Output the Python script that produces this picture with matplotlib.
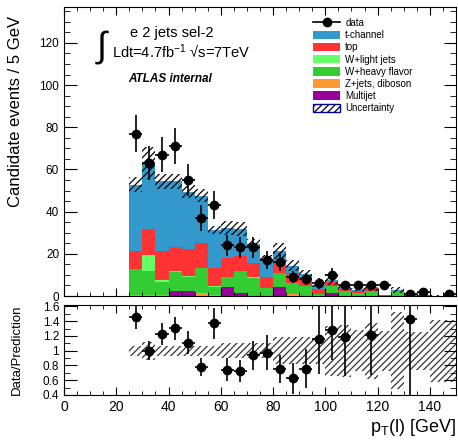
import matplotlib
matplotlib.use('Agg')
import matplotlib.pyplot as plt
import numpy as np
from matplotlib.lines import Line2D
from matplotlib.patches import Patch
from matplotlib.legend_handler import HandlerTuple
from matplotlib.ticker import MultipleLocator

plt.rcParams['font.family'] = ['Liberation Sans', 'DejaVu Sans']
plt.rcParams['mathtext.fontset'] = 'custom'
plt.rcParams['mathtext.rm'] = 'Liberation Sans'
plt.rcParams['mathtext.it'] = 'Liberation Sans:italic'
plt.rcParams['hatch.linewidth'] = 0.9

# 5 GeV bins, 25 -> 150 GeV
bin_lo = np.arange(25, 150, 5)
bin_w = 5

# event counts
data = [77, 63, 67, 71, 55, 37, 43, 24, 23, 23, 17, 16, 9, 8, 6, 10, 5, 5, 5, 5, 0, 1, 2, 0, 1]

# backgrounds (stacked bottom to top)
multijet = [0.1, 0.0, 0.0, 2.4, 2.4, 0.2, 0.0, 4.4, 1.5, 0.0, 0.0, 4.4, 0.0, 0.0, 0.0,
            1.5, 0.0, 0.0, 0.0, 0.0, 0.0, 0.0, 0.0, 0.2, 0.0]
zjets = [0.3, 0.3, 0.4, 0.1, 0.1, 1.4, 0.3, 0.1, 0.1, 0.2, 0.1, 0.1, 0.8, 0.2, 0.0,
         0.0, 0.0, 0.0, 0.0, 0.0, 0.0, 0.0, 0.0, 0.0, 0.0]
wheavy = [12.3, 11.6, 6.1, 8.7, 6.7, 11.9, 4.1, 4.4, 10.3, 8.5, 3.9, 6.3, 5.2, 4.5, 1.0,
          3.2, 2.2, 1.2, 2.3, 0.0, 2.5, 0.0, 0.0, 0.0, 0.0]
wlight = [0.0, 7.6, 1.1, 0.8, 0.3, 0.0, 0.2, 0.3, 0.0, 0.2, 0.0, 0.0, 0.0, 0.0, 0.0,
          0.0, 0.0, 0.0, 0.0, 0.0, 0.0, 0.0, 0.0, 0.0, 0.0]
top = [8.7, 12.3, 13.8, 11.3, 12.7, 11.7, 8.9, 8.7, 7.2, 6.9, 4.9, 5.5, 5.1, 4.3, 2.2,
       1.8, 1.3, 1.0, 1.5, 0.5, 0.0, 0.5, 0.2, 0.0, 0.1]
tchan = [31.4, 31.2, 33.1, 31.2, 27.3, 22.3, 17.8, 14.4, 12.7, 8.7, 8.6, 5.0, 3.3, 1.6, 2.0,
         1.3, 0.7, 0.8, 0.3, 0.0, 0.2, 0.2, 0.1, 0.0, 0.1]

# relative uncertainty of the prediction
rel_unc = [0.07, 0.12, 0.065, 0.065, 0.065, 0.065, 0.065, 0.105, 0.105, 0.105, 0.105,
           0.18, 0.18, 0.18, 0.18, 0.34, 0.35, 0.28, 0.38, 0.27, 0.52, 0.26, 0.26, 0.42, 0.42]

samples = [
    ('Multijet', multijet, '#990099'),
    ('Z+jets, diboson', zjets, '#ff9933'),
    ('W+heavy flavor', wheavy, '#33cc33'),
    ('W+light jets', wlight, '#66ff66'),
    ('top', top, '#ff3333'),
    ('t-channel', tchan, '#3399cc'),
]

data = np.array(data, dtype=float)
rel_unc = np.array(rel_unc)
total = np.sum([np.array(s[1]) for s in samples], axis=0)
centers = bin_lo + bin_w / 2

fig = plt.figure(figsize=(4.58, 4.44), dpi=100)
ax = fig.add_axes([0.1397, 0.3333, 0.856, 0.6509])
rax = fig.add_axes([0.1397, 0.1104, 0.856, 0.2027])

# stack
bottom = np.zeros(len(bin_lo))
handles = {}
for name, vals, col in samples:
    vals = np.array(vals)
    ax.bar(bin_lo, vals, width=bin_w, bottom=bottom, align='edge',
           color=col, linewidth=0)
    handles[name] = Patch(facecolor=col, edgecolor='none')
    bottom += vals

# uncertainty band
err = total * rel_unc
ax.bar(bin_lo, 2 * err, width=bin_w, bottom=total - err, align='edge',
       facecolor='none', edgecolor='black', hatch='/////', linewidth=0)

# data
m = data > 0
ax.errorbar(centers[m], data[m], xerr=bin_w / 2, yerr=np.sqrt(data[m]),
            fmt='o', color='black', ms=6, elinewidth=1.2, capsize=0, zorder=5)

ax.set_xlim(0, 150)
ax.set_ylim(0, 137)
ax.set_ylabel('Candidate events / 5 GeV', fontsize=12)
ax.yaxis.set_label_coords(-0.105, 0.64)
ax.xaxis.set_major_locator(MultipleLocator(20))
ax.xaxis.set_minor_locator(MultipleLocator(5))
ax.yaxis.set_major_locator(MultipleLocator(20))
ax.yaxis.set_minor_locator(MultipleLocator(5))
ax.tick_params(which='both', direction='in', top=True, right=True, labelsize=8.5)
ax.tick_params(axis='y', which='major', length=9)
ax.tick_params(axis='y', which='minor', length=4.5)
ax.tick_params(axis='x', which='major', length=6)
ax.tick_params(axis='x', which='minor', length=3)
ax.tick_params(axis='x', labelbottom=False)

# text
fig.text(130 / 458, 1 - 33 / 444, 'e 2 jets sel-2', fontsize=10.5, va='center', ha='left')
fig.text(97 / 458, 1 - 47 / 444, '\u222b', fontsize=26, va='center', ha='left',
         family=['Liberation Sans', 'DejaVu Sans'])
fig.text(112 / 458, 1 - 52 / 444, 'Ldt=4.7fb$^{\\mathregular{-1}}$ \u221as=7TeV',
         fontsize=10.5, va='center', ha='left')
fig.text(128 / 458, 1 - 79 / 444, 'ATLAS internal', fontsize=8.5, fontweight='bold',
         fontstyle='italic', va='center', ha='left')

# legend
unc_handle = (Patch(facecolor='white', edgecolor='black', hatch='/////', linewidth=0),
              Patch(facecolor='none', edgecolor='#000099', linewidth=1))
leg_handles = [Line2D([], [], color='black', marker='o', ms=6, lw=1.2)]
leg_labels = ['data']
for name in ['t-channel', 'top', 'W+light jets', 'W+heavy flavor', 'Z+jets, diboson', 'Multijet']:
    leg_handles.append(handles[name])
    leg_labels.append(name)
leg_handles.append(unc_handle)
leg_labels.append('Uncertainty')
ax.legend(leg_handles, leg_labels, loc='upper left', bbox_to_anchor=(0.618, 0.985),
          frameon=False, fontsize=7, handlelength=2.8, handleheight=0.95,
          labelspacing=0.22, handletextpad=0.5, borderpad=0.2,
          handler_map={tuple: HandlerTuple(ndivide=1, pad=0)})

# ratio panel
rax.bar(bin_lo, 2 * rel_unc, width=bin_w, bottom=1 - rel_unc, align='edge',
        facecolor='none', edgecolor='#333333', hatch='/////', linewidth=0)
ratio = np.where(total > 0, data / total, 0)
rerr = np.where(total > 0, np.sqrt(data) / total, 0)
show = (data > 0) & (ratio >= 0.4) & (ratio <= 1.6)
rax.errorbar(centers[show], ratio[show], xerr=bin_w / 2, yerr=rerr[show],
             fmt='o', color='black', ms=6, elinewidth=1.2, capsize=0, zorder=5)
rax.set_xlim(0, 150)
rax.set_ylim(0.4, 1.62)
rax.set_yticks([0.4, 0.6, 0.8, 1.0, 1.2, 1.4, 1.6])
rax.set_yticklabels(['0.4', '0.6', '0.8', '1', '1.2', '1.4', '1.6'])
rax.yaxis.set_minor_locator(MultipleLocator(0.1))
rax.xaxis.set_major_locator(MultipleLocator(20))
rax.xaxis.set_minor_locator(MultipleLocator(5))
rax.tick_params(which='both', direction='in', top=True, right=True)
rax.tick_params(axis='y', labelsize=8.5)
rax.tick_params(axis='x', labelsize=10)
rax.tick_params(axis='y', which='major', length=9)
rax.tick_params(axis='y', which='minor', length=4.5)
rax.tick_params(axis='x', which='major', length=6)
rax.tick_params(axis='x', which='minor', length=3)
rax.set_ylabel('Data/Prediction', fontsize=9.5)
rax.yaxis.set_label_coords(-0.105, 0.5)
rax.set_xlabel(r'p$_{\mathregular{T}}$(l) [GeV]', fontsize=13, loc='right', labelpad=2)

fig.savefig('out.png', dpi=100)
